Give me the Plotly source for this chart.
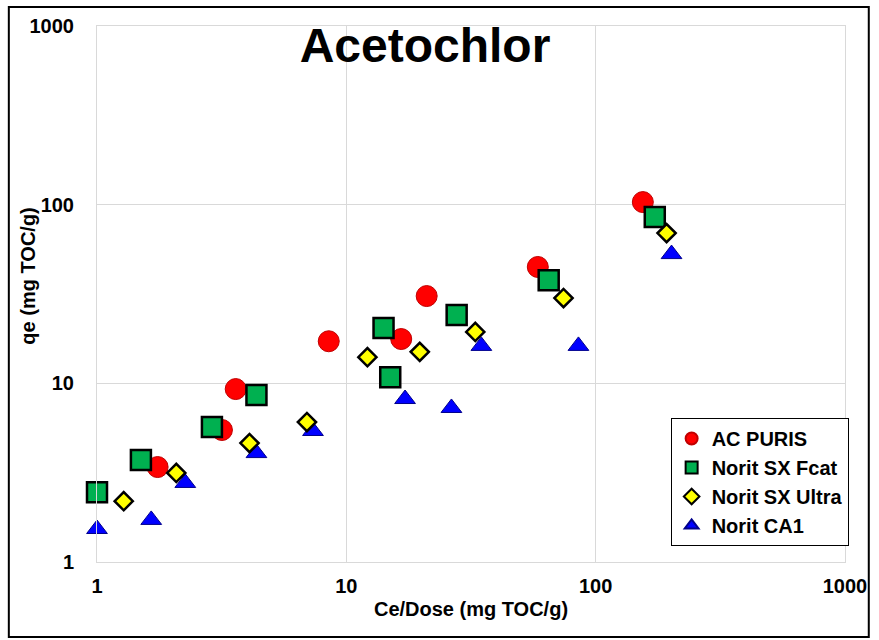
import plotly.graph_objects as go

# Data
puris_x = [1.75, 3.17, 3.60, 8.5, 16.6, 21.0, 58.6, 154.6]
puris_y = [3.40, 5.48, 9.29, 17.2, 17.7, 30.8, 44.8, 103.4]

fcat_x = [1.0, 1.50, 2.89, 4.36, 14.1, 15.0, 27.7, 64.8, 172.6]
fcat_y = [2.46, 3.72, 5.69, 8.60, 20.4, 10.8, 24.1, 37.8, 85.2]

ultra_x = [1.28, 2.08, 4.09, 6.95, 12.15, 19.7, 32.9, 74.3, 192.5]
ultra_y = [2.19, 3.15, 4.63, 6.07, 14.0, 15.0, 19.4, 30.0, 69.3]

ca1_x = [1.0, 1.65, 2.26, 4.36, 7.35, 17.2, 26.4, 34.8, 85.3, 201.5]
ca1_y = [1.53, 1.72, 2.77, 4.07, 5.41, 8.17, 7.28, 16.2, 16.2, 52.9]

tick_vals = [1, 10, 100, 1000]
tick_text = ["1", "10", "100", "1000"]

FONT = "Liberation Sans, Arial, sans-serif"

fig = go.Figure()
fig.add_trace(go.Scatter(x=puris_x, y=puris_y, mode="markers", name="AC PURIS",
                         legendrank=1, legendgroup="a", cliponaxis=False,
                         marker=dict(symbol="circle", size=21, color="#FF0000",
                                     line=dict(color="#C00000", width=1))))
fig.add_trace(go.Scatter(x=fcat_x, y=fcat_y, mode="markers", name="Norit SX Fcat",
                         legendrank=2, legendgroup="b", cliponaxis=False,
                         marker=dict(symbol="square", size=20, color="#00B050",
                                     line=dict(color="#000000", width=2.5))))
fig.add_trace(go.Scatter(x=ca1_x, y=ca1_y, mode="markers", name="Norit CA1",
                         legendrank=4, legendgroup="d", cliponaxis=False,
                         marker=dict(symbol="triangle-up", size=18, color="#0000FF",
                                     line=dict(color="#00008B", width=1))))
fig.add_trace(go.Scatter(x=ultra_x, y=ultra_y, mode="markers", name="Norit SX Ultra",
                         legendrank=3, legendgroup="c", cliponaxis=False,
                         marker=dict(symbol="diamond", size=14, color="#FFFF00",
                                     line=dict(color="#000000", width=2.5))))

fig.update_layout(
    width=879, height=640,
    margin=dict(l=97, r=27, t=26, b=78),
    paper_bgcolor="white", plot_bgcolor="white",
    font=dict(family=FONT, color="black"),
    title=dict(text="Acetochlor", x=425/879, xanchor="center", xref="container",
               y=1-45.5/640, yanchor="middle", yref="container",
               font=dict(size=48, weight="bold", family=FONT, color="black")),
    legend=dict(x=(676-97)/755, y=(562-418)/536, xanchor="left", yanchor="top",
                bgcolor="white", bordercolor="black", borderwidth=1,
                font=dict(size=20, weight="bold", family=FONT, color="black"),
                traceorder="grouped", tracegroupgap=0, itemwidth=30,
                itemsizing="constant"),
    showlegend=True,
)
fig.update_xaxes(type="log", range=[0, 3], tickmode="array", tickvals=tick_vals, ticktext=tick_text,
                 showgrid=True, gridcolor="#D9D9D9", gridwidth=1, zeroline=False,
                 showline=True, linecolor="#D9D9D9", mirror=True,
                 ticks="", ticklabelstandoff=6,
                 tickfont=dict(size=20, weight="bold", family=FONT, color="black"),
                 title=dict(text="Ce/Dose (mg TOC/g)", standoff=5,
                            font=dict(size=20, weight="bold", family=FONT, color="black")))
fig.update_yaxes(type="log", range=[0, 3], tickmode="array", tickvals=tick_vals, ticktext=tick_text,
                 showgrid=True, gridcolor="#D9D9D9", gridwidth=1, zeroline=False,
                 showline=True, linecolor="#D9D9D9", mirror=True,
                 ticks="", ticklabelstandoff=18,
                 tickfont=dict(size=20, weight="bold", family=FONT, color="black"))

# y-axis title placed as a rotated annotation
fig.add_annotation(text="qe (mg TOC/g)", textangle=-90, xref="paper", yref="paper",
                   x=(27-97)/755, y=(562-276)/536, xanchor="center", yanchor="middle",
                   showarrow=False,
                   font=dict(size=20, weight="bold", family=FONT, color="black"))

# outer frame around the chart
fig.add_shape(type="rect", xref="paper", yref="paper",
              x0=(8-97)/755, x1=(876-97)/755, y0=(562-637)/536, y1=(562-7)/536,
              line=dict(color="black", width=2), fillcolor="rgba(0,0,0,0)", layer="above")

fig.write_html("out.html")
